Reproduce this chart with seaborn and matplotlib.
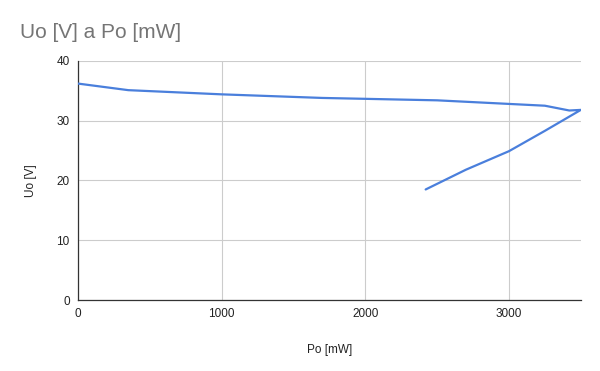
import matplotlib
matplotlib.use("Agg")
import matplotlib.pyplot as plt
import pandas as pd
import seaborn as sns

# Po [mW] vs Uo [V], in measurement order
po = [0, 350, 1000, 1700, 2500, 3000, 3250, 3420, 3500, 3250, 3000, 2700, 2420]
uo = [36.2, 35.1, 34.4, 33.8, 33.4, 32.8, 32.5, 31.7, 31.8, 28.3, 24.9, 21.8, 18.5]

df = pd.DataFrame({"Po [mW]": po, "Uo [V]": uo})

sns.set_style("white")
plt.rcParams["font.family"] = ["Liberation Sans", "DejaVu Sans"]

fig = plt.figure(figsize=(6, 3.71), dpi=100)
ax = fig.add_axes([0.13, 0.191, 0.838, 0.645])

# estimator=None keeps repeated Po values as separate points
sns.lineplot(data=df, x="Po [mW]", y="Uo [V]", sort=False, estimator=None,
             color="#4a7fdc", linewidth=1.6, ax=ax, zorder=3)

ax.set_xlim(0, 3500)
ax.set_ylim(0, 40)
ax.set_xticks([0, 1000, 2000, 3000])
ax.set_yticks([0, 10, 20, 30, 40])
ax.grid(True, color="#cccccc", linewidth=0.8)
for s in ["top", "right"]:
    ax.spines[s].set_visible(False)
for s in ["left", "bottom"]:
    ax.spines[s].set_color("#333333")
    ax.spines[s].set_linewidth(0.9)
ax.tick_params(axis="both", length=0, labelsize=8.5, labelcolor="#222222", pad=6)

ax.set_xlabel("Po [mW]", fontsize=8.5, color="#222222", labelpad=17)
ax.set_ylabel("Uo [V]", fontsize=8.5, color="#222222", labelpad=14)

fig.text(20 / 600, 1 - 32 / 371, "Uo [V] a Po [mW]", fontsize=15, color="#757575",
         ha="left", va="center")

fig.savefig("out.png", dpi=100, facecolor="white")
